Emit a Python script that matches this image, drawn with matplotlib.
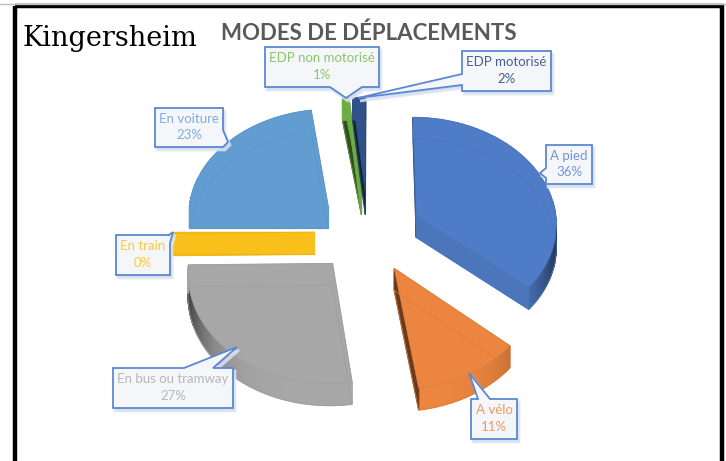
import numpy as np
import matplotlib
matplotlib.use("Agg")
import matplotlib.pyplot as plt
from matplotlib.patches import Polygon, Rectangle

# chart data
labels = ["A pied", "A vélo", "En bus ou tramway", "En train", "En voiture",
          "EDP non motorisé", "EDP motorisé"]
# labels only show whole percents, decimals
values = [36.4, 11.3, 27.1, 0.2, 22.6, 0.8, 1.6]
colors = ["#4F7CC6", "#EB853F", "#A7A7A7", "#F9BF1A", "#629DD1", "#6FAE45", "#2F5288"]
text_colors = ["#7494D8", "#F2995C", "#B8B8B8", "#FFC93A", "#7FAEE2", "#8DC46C", "#46628F"]

# callout boxes in pixels: left, top, right, bottom
boxes = [(546, 145, 592, 184), (471, 399, 517, 439), (113, 368, 233, 408),
         (116, 235, 170, 275), (155, 108, 223, 147), (265, 47, 379, 87), (462, 51, 551, 91)]
# pointer: tip, then the two points where it leaves the box
pointers = [((540, 173), (546, 168), (546, 178)),
            ((469, 373), (478, 399), (490, 399)),
            ((237, 347), (184, 368), (213, 368)),
            ((173, 232), (169, 235), (170, 243)),
            ((228, 142), (223, 130), (223, 147)),
            ((346, 98), (330, 87), (362, 87)),
            ((358, 98), (462, 74), (462, 85))]

# pie projection
CX, CY = 368, 232
RX, RY = 141, 107
PERSP = 0.07
EXPLODE = 0.38
DEPTH = 22


def project(u, w):
    d = 1 + PERSP * w
    return CX + RX * u / d, CY - RY * w / d


def shade(color, f):
    r, g, b = matplotlib.colors.to_rgb(color)
    return (r * f, g * f, b * f)


def slice_outline(a0, a1):
    mid = (a0 + a1) / 2
    eu, ew = EXPLODE * np.sin(mid), EXPLODE * np.cos(mid)
    ang = np.linspace(a0, a1, 60)
    us = np.r_[eu, eu + np.sin(ang)]
    ws = np.r_[ew, ew + np.cos(ang)]
    x, y = project(us, ws)
    return x, y


def draw_slice(ax, a0, a1, color):
    x, y = slice_outline(a0, a1)
    xc, yc = x.mean(), y.mean()
    n = len(x)
    # extruded walls first, top face covers the ones at the back
    for i in range(n):
        j = (i + 1) % n
        dx, dy = x[j] - x[i], y[j] - y[i]
        ln = np.hypot(dx, dy)
        if ln == 0:
            continue
        nx, ny = dy / ln, -dx / ln
        if nx * ((x[i] + x[j]) / 2 - xc) + ny * ((y[i] + y[j]) / 2 - yc) < 0:
            nx, ny = -nx, -ny
        # walls turned away from the viewer stay flat, no dark sliver
        f = 1.0 if ny < -0.02 else 1 - 0.6 * nx ** 4
        quad = [(x[i], y[i]), (x[j], y[j]), (x[j], y[j] + DEPTH), (x[i], y[i] + DEPTH)]
        ax.add_patch(Polygon(quad, closed=True, fc=shade(color, f), ec=shade(color, f), lw=0.9))
    ax.add_patch(Polygon(np.c_[x, y], closed=True, fc=color, ec=shade(color, 0.95), lw=0.5))
    # the faint lower outline that shows through
    ax.plot(np.r_[x, x[0]], np.r_[y, y[0]] + DEPTH, color=shade(color, 0.94), lw=0.5)


def draw_callout(ax, box, pointer, label, value, color):
    l, t, r, b = box
    tip, p0, p1 = pointer
    # walk round the box and put the pointer on the side it leaves from
    corners = [(l, t), (r, t), (r, b), (l, b)]
    if p0[1] == t and p1[1] == t:
        pts = [corners[0], p0, tip, p1, corners[1], corners[2], corners[3]]
    elif p0[1] == b and p1[1] == b:
        pts = [corners[0], corners[1], corners[2], p1, tip, p0, corners[3]]
    elif p0[0] == l:
        pts = [corners[0], corners[1], corners[2], corners[3], p1, tip, p0]
    else:
        pts = [corners[0], corners[1], p0, tip, p1, corners[2], corners[3]]
    shadow = [(px + 2, py + 3) for px, py in pts]
    ax.add_patch(Polygon(shadow, closed=True, fc="#C9D5EA", ec="#DCE4F2", lw=2, alpha=0.8, zorder=5))
    ax.add_patch(Polygon(pts, closed=True, fc="#F4F6FA", ec="#5C88D2", lw=1.3, zorder=6))
    ax.text((l + r) / 2, (t + b) / 2 - 0.5, f"{label}\n{round(value)}%", color=color, ha="center",
            va="center", fontsize=9.5, family="Lato", linespacing=1.45, zorder=7)


fig = plt.figure(figsize=(7.26, 4.61), dpi=100)
ax = fig.add_axes([0, 0, 1, 1])
ax.set_xlim(0, 726)
ax.set_ylim(461, 0)
ax.axis("off")

# frame
ax.plot([0, 726], [4.5, 4.5], color="#BDBDBD", lw=1)
ax.add_patch(Rectangle((15, 6.5), 707, 480, fc="none", ec="black", lw=3.2))

# back slices first so the front ones sit on top
edges = np.cumsum([0] + values) / sum(values) * 2 * np.pi
order = [4, 5, 6, 0, 3, 2, 1]
for i in order:
    draw_slice(ax, edges[i], edges[i + 1], colors[i])

for i in range(len(values)):
    draw_callout(ax, boxes[i], pointers[i], labels[i], values[i], text_colors[i])

ax.text(369, 33, "MODES DE DÉPLACEMENTS", color="#595959", fontsize=16, fontweight="bold",
        family="Lato", ha="center", va="center")
ax.text(22, 39, "Kingersheim", color="black", fontsize=19.5, family="DejaVu Serif",
        ha="left", va="center")

fig.savefig("out.png", dpi=100)
